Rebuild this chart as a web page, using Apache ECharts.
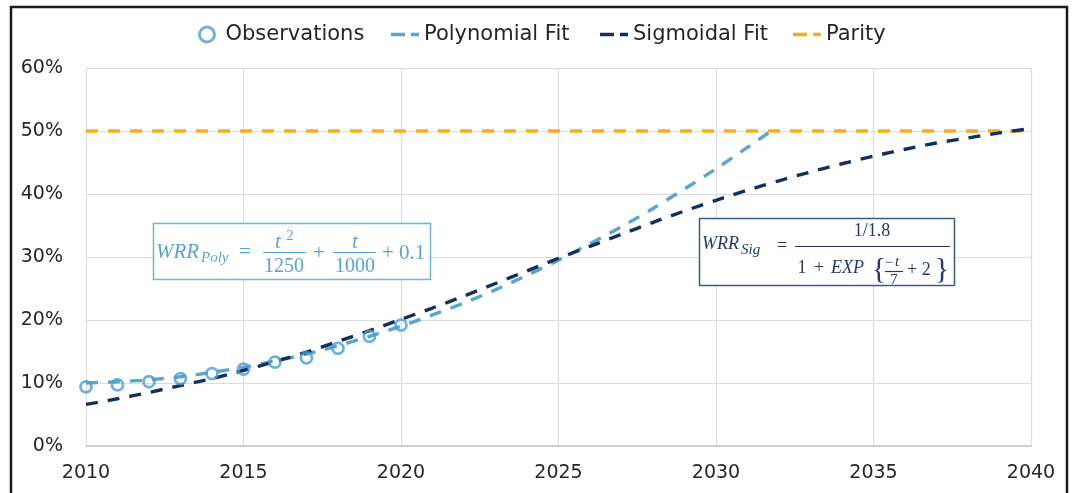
<!DOCTYPE html>
<html>
<head>
<meta charset="utf-8">
<script src="https://cdn.jsdelivr.net/npm/echarts@6/dist/echarts.min.js"></script>
<style>
  html, body { margin: 0; padding: 0; background: #fff; }
  #chart { width: 1072px; height: 493px; }
</style>
</head>
<body>
<div id="chart"></div>
<script>
// Yearly observations of the ratio
const obsYears = [2010, 2011, 2012, 2013, 2014, 2015, 2016, 2017, 2018, 2019, 2020];
const obsValues = [0.094, 0.097, 0.102, 0.107, 0.115, 0.122, 0.133, 0.140, 0.155, 0.174, 0.192];

// Polynomial fit, sampled per year until it meets parity
const polyYears = [2010, 2011, 2012, 2013, 2014, 2015, 2016, 2017, 2018, 2019, 2020,
  2021, 2022, 2023, 2024, 2025, 2026, 2027, 2028, 2029, 2030, 2031, 2031.75];
const polyValues = [0.100, 0.102, 0.105, 0.110, 0.117, 0.125, 0.135, 0.146, 0.159, 0.174, 0.190,
  0.208, 0.227, 0.248, 0.271, 0.295, 0.321, 0.348, 0.377, 0.408, 0.440, 0.474, 0.500];

// Sigmoidal fit, sampled per year
const sigYears = [2010, 2011, 2012, 2013, 2014, 2015, 2016, 2017, 2018, 2019, 2020,
  2021, 2022, 2023, 2024, 2025, 2026, 2027, 2028, 2029, 2030,
  2031, 2032, 2033, 2034, 2035, 2036, 2037, 2038, 2039, 2040];
const sigValues = [0.066, 0.075, 0.085, 0.096, 0.107, 0.120, 0.134, 0.149, 0.166, 0.183, 0.201,
  0.219, 0.238, 0.258, 0.278, 0.298, 0.317, 0.336, 0.355, 0.373, 0.390,
  0.406, 0.421, 0.435, 0.448, 0.460, 0.471, 0.481, 0.489, 0.497, 0.504];

// Parity reference
const parityYears = [2010, 2040];
const parityValues = [0.5, 0.5];

// Axis ranges and ticks
const xMin = 2010, xMax = 2040, xStep = 5;
const yMin = 0, yMax = 0.6, yStep = 0.1;

const C_OBS = '#4c9dcf';
const C_POLY = '#58a4d2';
const C_SIG = '#12305f';
const C_PAR = '#fbab1c';
const C_EQ1 = '#5aa2cf';
const C_EQ2 = '#1f3a68';

const zip = (xs, ys) => xs.map((x, i) => [x, ys[i]]);

const chart = echarts.init(document.getElementById('chart'), null, { renderer: 'canvas' });

const mathFont = '"Liberation Serif", "DejaVu Serif", serif';
function t(text, x, y, size, color, opts) {
  opts = opts || {};
  return {
    type: 'text', z: 100,
    style: {
      text: text, x: x, y: y,
      font: (opts.italic ? 'italic ' : '') + size + 'px ' + mathFont,
      fill: color,
      align: opts.align || 'center',
      verticalAlign: 'middle'
    }
  };
}
function hline(x1, x2, y, color) {
  return { type: 'line', z: 100, shape: { x1: x1, y1: y, x2: x2, y2: y }, style: { stroke: color, lineWidth: 1.2 } };
}

const polyEq = [
  { type: 'rect', z: 99, shape: { x: 153.5, y: 223.5, width: 277, height: 56 }, style: { fill: '#fff', stroke: '#74b2d9', lineWidth: 1.5 } },
  t('WRR', 156, 252, 21, C_EQ1, { italic: true, align: 'left' }),
  t('Poly', 201, 258, 15, C_EQ1, { italic: true, align: 'left' }),
  t('=', 245, 252, 21, C_EQ1),
  t('t', 278, 242, 21, C_EQ1, { italic: true }),
  t('2', 290, 236, 14, C_EQ1),
  hline(263, 306, 252.5, C_EQ1),
  t('1250', 284, 267, 20, C_EQ1),
  t('+', 319, 253, 21, C_EQ1),
  t('t', 355, 242, 21, C_EQ1, { italic: true }),
  hline(333, 376, 252.5, C_EQ1),
  t('1000', 355, 267, 20, C_EQ1),
  t('+ 0.1', 382, 253, 21, C_EQ1, { align: 'left' })
];

const sigEq = [
  { type: 'rect', z: 99, shape: { x: 699.5, y: 218.5, width: 255, height: 67 }, style: { fill: '#fff', stroke: '#3a5a8a', lineWidth: 1.5 } },
  t('WRR', 702, 244, 18, C_EQ2, { italic: true, align: 'left' }),
  t('Sig', 741, 250, 15, C_EQ2, { italic: true, align: 'left' }),
  t('=', 782, 246, 18, C_EQ2),
  hline(795, 950, 246.5, C_EQ2),
  t('1/1.8', 872, 231, 18, C_EQ2),
  t('1', 802, 268, 18, C_EQ2),
  t('+', 819, 268, 18, C_EQ2),
  t('EXP', 831, 268, 18, C_EQ2, { italic: true, align: 'left' }),
  t('{', 879, 270, 30, C_EQ2),
  t('\u2212', 889, 263, 15, C_EQ2),
  t('t', 897, 262, 15, C_EQ2, { italic: true }),
  hline(885, 903, 271.5, C_EQ2),
  t('7', 894, 280, 15, C_EQ2),
  t('+ 2', 907, 270, 18, C_EQ2, { align: 'left' }),
  t('}', 942, 270, 30, C_EQ2)
];

const dashStyle = (color) => ({ color: color, width: 3.4, type: [12, 10], cap: 'butt' });

// Legend sample for the fits: a long dash and a short one inside a 28x15 box
const dashIcon = 'path://M0,0h0.02v0.02h-0.02z M0,5.8h14v3.4H0z M20,5.8h8v3.4h-8z M27.98,14.98h0.02v0.02h-0.02z';

const legendText = { fontSize: 21, color: '#262626', fontFamily: '"DejaVu Sans", sans-serif' };
function legendAt(left, item, w, textPad) {
  return {
    top: 24, left: left, padding: 0, itemWidth: w, itemHeight: 15, selectedMode: false,
    textStyle: Object.assign({ padding: [0, 0, 0, textPad] }, legendText),
    data: [item]
  };
}
const legendDash = (name, color) => ({
  name: name, icon: dashIcon,
  itemStyle: { color: color, borderColor: 'rgba(0,0,0,0)', borderWidth: 0 }
});

chart.setOption({
  animation: false,
  backgroundColor: '#fff',
  textStyle: { fontFamily: '"DejaVu Sans", sans-serif' },
  grid: { left: 86, right: 41, top: 68, bottom: 47, containLabel: false },
  legend: [
    legendAt(198, { name: 'Observations', icon: 'circle', itemStyle: { color: 'rgba(0,0,0,0)', borderColor: C_OBS, borderWidth: 3 } }, 15, 6),
    legendAt(391, legendDash('Polynomial Fit', C_POLY), 28, 0),
    legendAt(600, legendDash('Sigmoidal Fit', C_SIG), 28, 0),
    legendAt(793, legendDash('Parity', C_PAR), 28, 0)
  ],
  xAxis: {
    type: 'value', min: xMin, max: xMax, interval: xStep,
    axisLine: { show: true, lineStyle: { color: '#c4c4c4', width: 1.5 } },
    axisTick: { show: false },
    splitLine: { show: true, lineStyle: { color: '#dcdcdc', width: 1.2 } },
    axisLabel: { color: '#262626', fontSize: 19, margin: 18, formatter: (v) => String(v) }
  },
  yAxis: {
    type: 'value', min: yMin, max: yMax, interval: yStep,
    axisLine: { show: false },
    axisTick: { show: false },
    splitLine: { show: true, lineStyle: { color: '#dcdcdc', width: 1.2 } },
    axisLabel: { color: '#262626', fontSize: 19, margin: 23, formatter: (v) => Math.round(v * 100) + '%' }
  },
  series: [
    {
      name: 'Parity', type: 'line', data: zip(parityYears, parityValues),
      showSymbol: false, symbol: 'none', lineStyle: dashStyle(C_PAR), itemStyle: { color: C_PAR }, z: 2
    },
    {
      name: 'Polynomial Fit', type: 'line', data: zip(polyYears, polyValues),
      showSymbol: false, symbol: 'none', smooth: 0.3, lineStyle: dashStyle(C_POLY), itemStyle: { color: C_POLY }, z: 3
    },
    {
      name: 'Sigmoidal Fit', type: 'line', data: zip(sigYears, sigValues),
      showSymbol: false, symbol: 'none', smooth: 0.3, lineStyle: dashStyle(C_SIG), itemStyle: { color: C_SIG }, z: 4
    },
    {
      name: 'Observations', type: 'scatter', data: zip(obsYears, obsValues),
      symbol: 'circle', symbolSize: 11,
      itemStyle: { color: 'rgba(0,0,0,0)', borderColor: C_OBS, borderWidth: 2.8 }, z: 5
    }
  ],
  graphic: [
    { type: 'group', children: polyEq },
    { type: 'group', children: sigEq },
    { type: 'rect', z: 200, silent: true, shape: { x: 11, y: 7, width: 1056, height: 500 }, style: { fill: 'none', stroke: '#1a1a1a', lineWidth: 2.5 } }
  ]
});
</script>
</body>
</html>
